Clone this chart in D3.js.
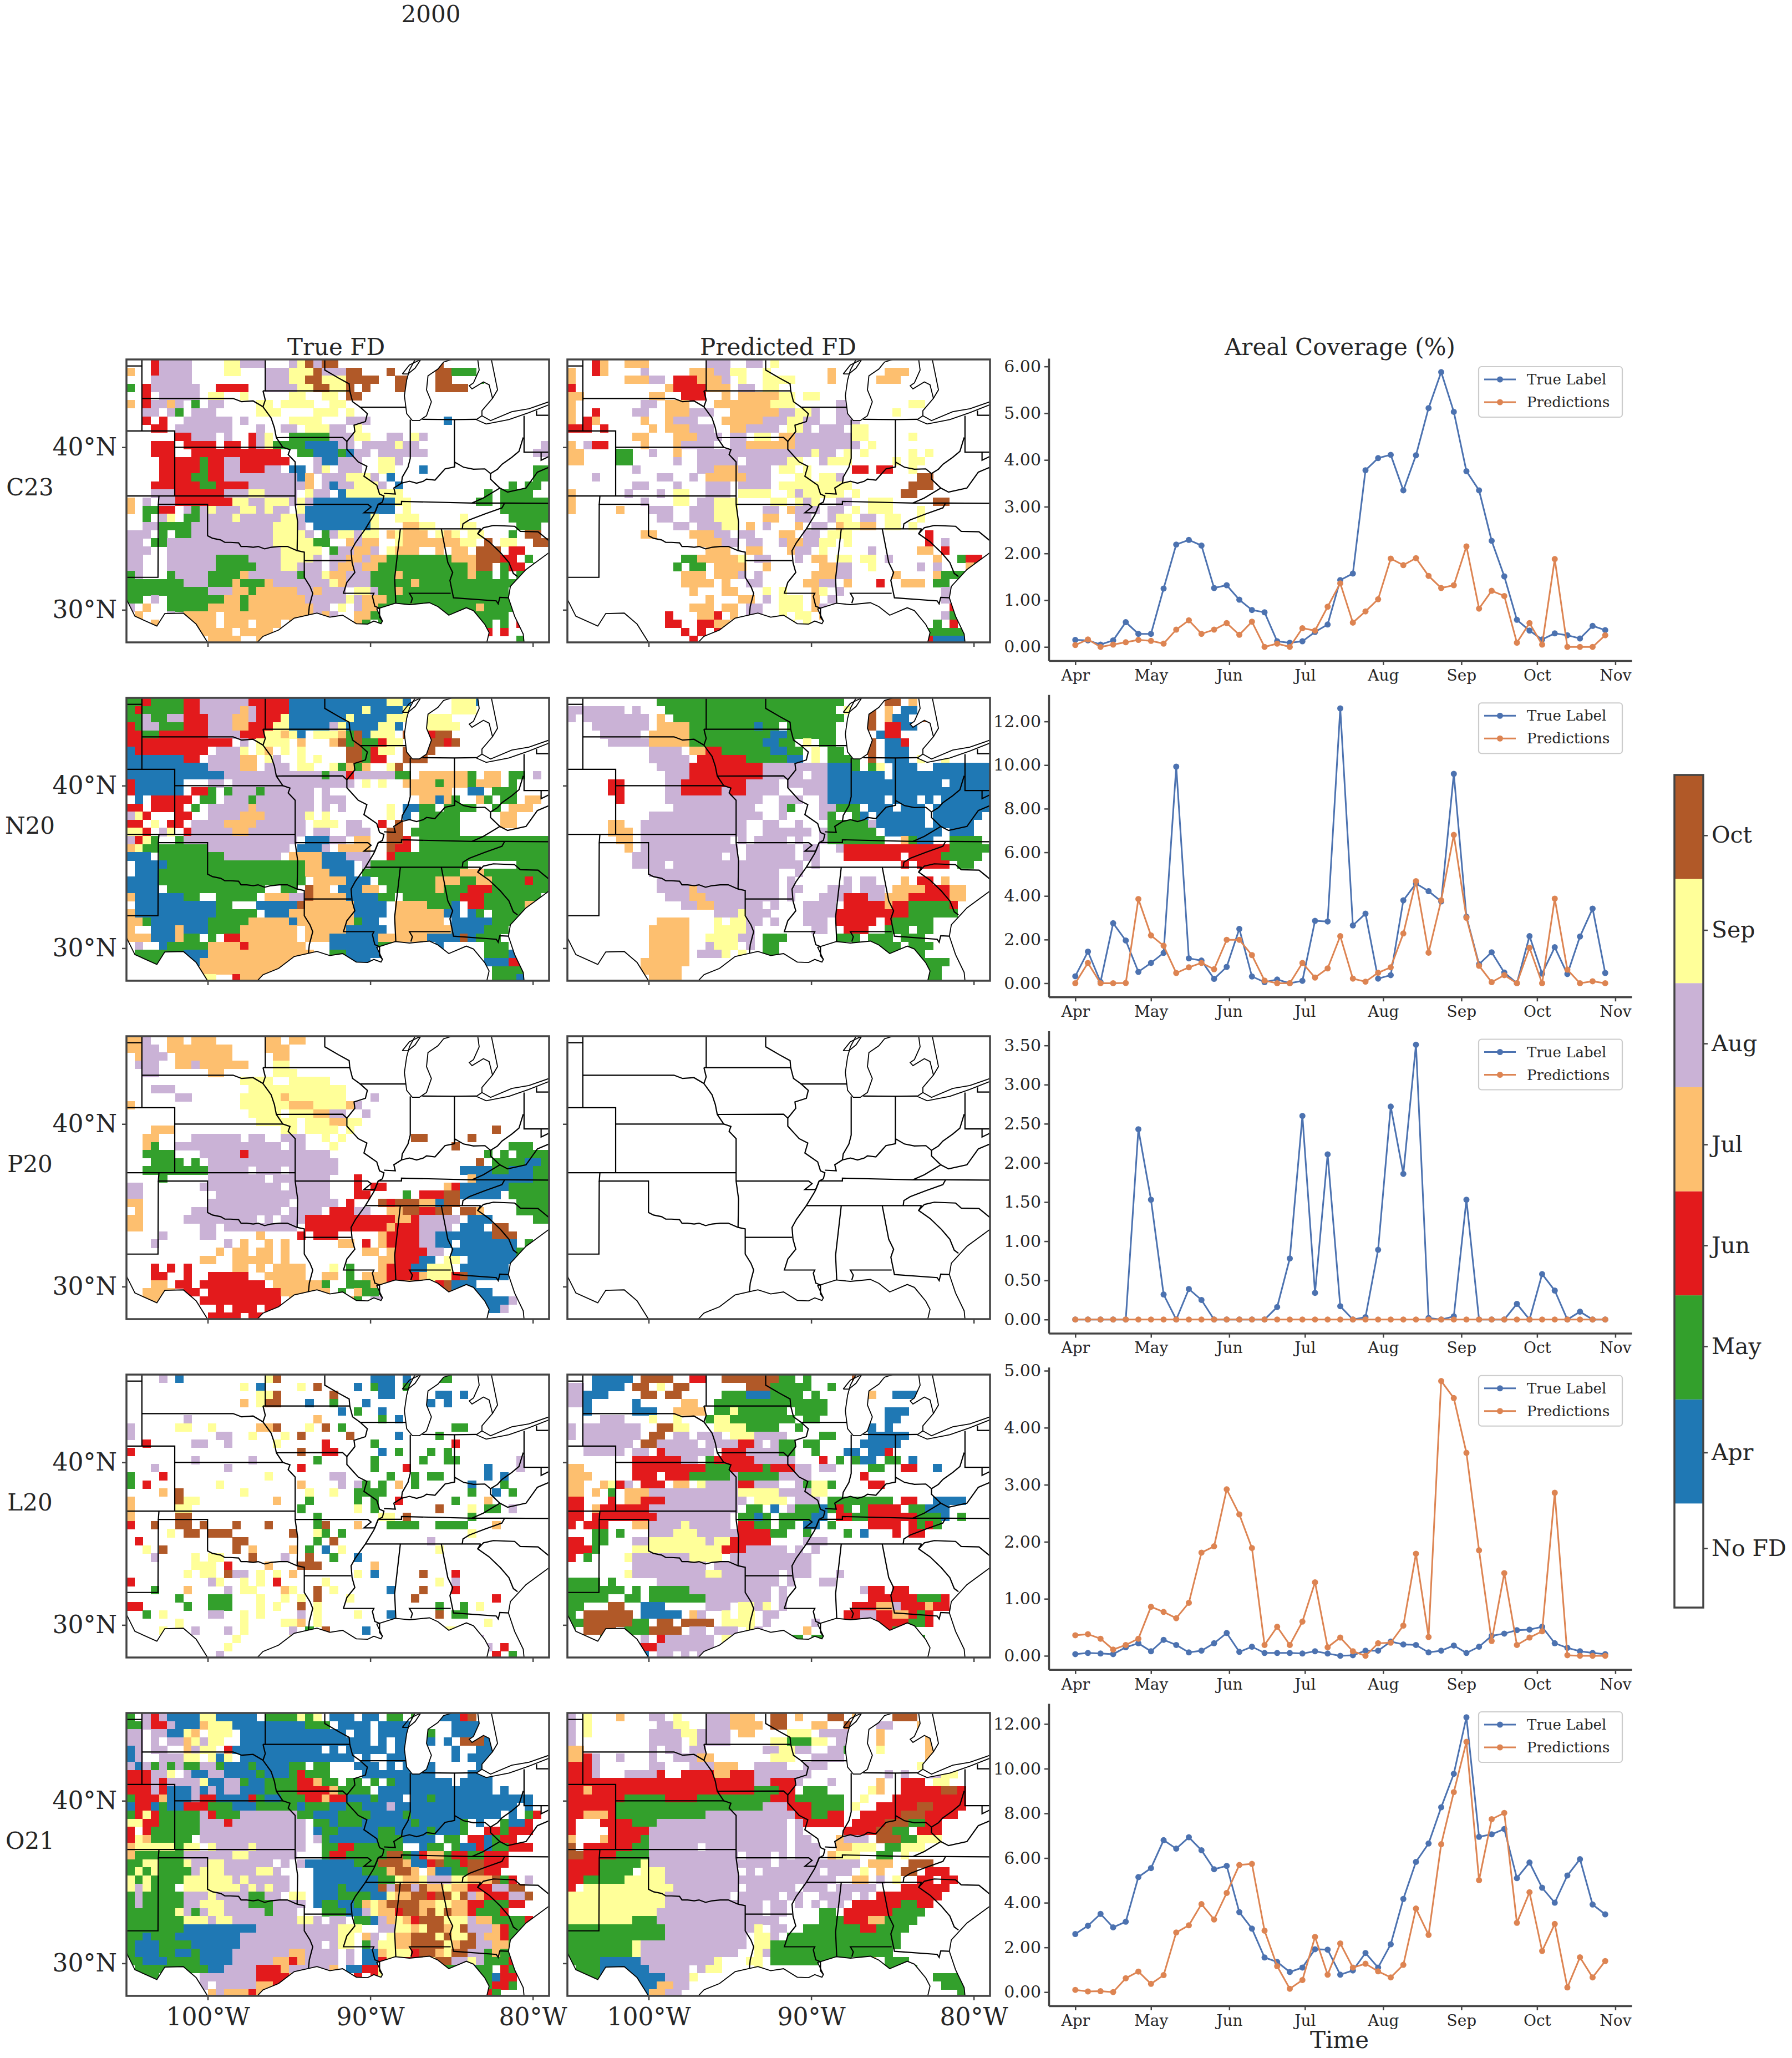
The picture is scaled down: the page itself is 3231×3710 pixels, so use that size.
<!DOCTYPE html>
<html lang="en">
<head>
<meta charset="UTF-8">
<title>2000</title>
<style>
body { margin: 0; background: #fff; }
text { font-family: "DejaVu Serif", serif; fill: #262626; }
</style>
</head>
<body>
<svg id="fig" width="3231" height="3710"></svg>
<script src="https://d3js.org/d3.v7.min.js"></script>
<script>
var regions = ["C23", "N20", "P20", "L20", "O21"];
var colTitles = ["True FD", "Predicted FD"];
var monthNames = ["No FD", "Apr", "May", "Jun", "Jul", "Aug", "Sep", "Oct"];
var monthColors = ["#ffffff", "#1f78b4", "#33a02c", "#e31a1c", "#fdbf6f", "#cab2d6", "#ffff99", "#b15928"];
var cellCodes = ".amjlgso";
var barTicks = [0.57, 1.49, 2.51, 3.48, 4.45, 5.42, 6.51, 7.42];
var monthTicks = [3, 4, 5, 6, 7, 8, 9, 10];
var yTicks = [
  [0, 1, 2, 3, 4, 5, 6],
  [0, 2, 4, 6, 8, 10, 12],
  [0, 0.5, 1, 1.5, 2, 2.5, 3, 3.5],
  [0, 1, 2, 3, 4, 5],
  [0, 2, 4, 6, 8, 10, 12]
];

// areal coverage, one value every 5 days from 1 Apr
var trueC23 = [.15,.14,.05,.14,.53,.28,.28,1.25,2.19,2.29,2.17,1.26,1.32,1.01,.79,.74,.12,.09,.12,.32,.48,1.43,1.57,3.78,4.04,4.11,3.35,4.10,5.11,5.88,5.03,3.76,3.35,2.27,1.51,.58,.35,.16,.29,.25,.18,.45,.36];
var predC23 = [.04,.16,0,.05,.1,.15,.13,.07,.37,.57,.28,.37,.51,.26,.54,0,.07,0,.4,.35,.86,1.36,.52,.76,1.02,1.89,1.75,1.9,1.52,1.26,1.32,2.15,.82,1.2,1.09,.09,.51,.05,1.88,0,0,0,.25];
var trueN20 = [.32,1.45,.06,2.75,1.96,.52,.93,1.39,9.93,1.14,1.04,.20,.75,2.49,.31,.05,.17,0,.11,2.86,2.83,12.6,2.65,3.19,.21,.37,3.80,4.57,4.22,3.75,9.60,3.05,.87,1.42,.49,0,2.16,.44,1.65,.42,2.14,3.42,.47];
var predN20 = [0,.93,0,0,.01,3.86,2.19,1.72,.47,.73,.93,.64,1.99,1.99,1.29,.12,0,0,.93,.26,.68,2.16,.21,.07,.48,.73,2.28,4.68,1.40,3.80,6.80,3.0,.80,.05,.37,0,1.63,0,3.88,.62,0,.09,0];
var trueP20 = [0,0,0,0,0,2.43,1.53,.32,0,.39,.25,0,0,0,0,0,.16,.78,2.60,.34,2.11,.17,0,.03,.89,2.72,1.86,3.51,.02,0,.04,1.53,0,0,0,.20,0,.58,.37,0,.10,0,0];
var predP20 = [0,0,0,0,0,0,0,0,0,0,0,0,0,0,0,0,0,0,0,0,0,0,0,0,0,0,0,0,0,0,0,0,0,0,0,0,0,0,0,0,0,0,0];
var trueL20 = [.03,.05,.04,.03,.15,.22,.08,.28,.19,.06,.09,.22,.40,.07,.16,.05,.05,.05,.04,.08,.04,0,.01,.09,.09,.25,.20,.19,.06,.09,.18,.05,.16,.35,.39,.45,.46,.51,.22,.14,.08,.05,.03];
var predL20 = [.36,.38,.30,.11,.19,.30,.86,.77,.66,.93,1.81,1.92,2.92,2.48,1.89,.19,.51,.19,.60,1.29,.15,.32,.08,0,.22,.23,.53,1.79,.33,4.82,4.52,3.56,1.85,.26,1.45,.19,.32,.43,2.86,.01,0,0,0];
var trueO21 = [2.6,2.97,3.5,2.9,3.15,5.15,5.55,6.8,6.42,6.93,6.35,5.5,5.65,3.58,2.84,1.55,1.35,.9,1.1,1.92,1.9,.78,.97,1.75,1.1,2.14,4.17,5.83,6.65,8.27,9.77,12.3,6.95,7.06,7.3,5.1,5.8,4.67,4,5.22,5.95,3.92,3.48];
var predO21 = [.1,.03,.04,0,.62,.92,.37,.76,2.67,2.99,3.94,3.25,4.44,5.69,5.74,2.75,1.16,.15,.54,2.47,.78,2.18,1.1,1.27,.93,.66,1.22,3.74,2.56,6.62,8.95,11.2,5.01,7.74,8.02,3.1,4.47,1.84,3.05,.21,1.56,.66,1.39];
var trueSeries = [trueC23, trueN20, trueP20, trueL20, trueO21];
var predSeries = [predC23, predN20, predP20, predL20, predO21];

// flash drought onset month on a half degree grid, first row just under 45.4N, first column at 105W
var gridC23True = [
"...jgggg....ssggg...gsogoo............o.....",
"l..jgggg....ss...gggsssogggoo...o.....oommm",
"...ggggg.........gggssoosssoooo..oo...oo...m",
"m.jgggggg..jjjj..ggggssoosso.o...oo...oooo",
"..j.ggggg.ss..s.....ss..ss.oo",
"l.jgglg.m.gg....ss.ssss..ss",
"..gg.gm.ggg.....sss....sss.s",
"..j.j..gggggg.g.....ssss...ggg.........a",
"...jj.ggggggg...g..gg.sssgg.s",
"......jjggg.g..jgs..mmmmmgggss..gg.sg",
"...jjj.jjjj.jj.jgsmmmmaaaagg.ggggsgg...............g",
"...jjj..jjjjjjjjjjj..mmaaamagg.gggggg.............gg",
"....jjjjjmjjggjjjjjj...gaaggg..ssg..................m",
"....jjjjjmjjggjjjgg.aa.gs.ggg..ss...a.............mm",
"....jjjjmmjjgggggggggal.gggsssg.a.................mm",
"...jjjjjjmmjjjjgggggggl.gaggsssg.a.............m.mm.",
"...gggjjjjjjgggssgggg.sgg.asssssss..........m.mmmm",
"l.g.ggjjjjjjjssggsssgsgaaaaaaaaaass........mm.mmmmmm",
"l.mmjj.gmgsgggssgsgg.saaaaaaaaaaa.s...........mmmmmm.oo",
"..m.gs.mmggggsgggggssgaaaaaaaas..sss.....s.....mmmmm.oo",
"..ggmmmmggggggggggsssg.aaaaaaas...llss...ss.....mmm.oo",
"ggg.m.mmggggggggggssssg.mgssgss.lslll.sls.ss...m.oo.o",
"gg.mmgggggggggggggsssssmm..lgll..slllllllss.o.ss..oo",
"ggg..ggggggggggggggsssss.mggllg.slll..l.ll.ooo.jj..",
"gg...ggggggmmmmggggssssg.ggllgllmmmmmmmmlllooojj.m.",
"gg...ggggggmmmmmgggssggg.gllgllmmmmmmmmmmmloo.mjj.m",
"mg...mggggmmmmlggggggmggsllgggmmmlmmmmmmmmlmm.m.mm.",
"mmmmmmmgggmmmlmmmlgggggggslgggmmmmmlmmmmmmmmmmmmmmm",
"mmmmmmmmmmgggllmlllllgglggg.ssgmmlmmmmmmmmmmmmm.m.m.",
"mm.g.mmmmmmmllmlllllllgggggsglllmmmmmmmmmmmmmmmm.j.o",
"g.l..mmmmmllllmllllllllgg.s.gllmmmmlmmmmmmmlmmmmjjjo",
".l...g.llll.lllllllllllglg..llmmmmlmmmmmmmmmmmm.m.jm",
"gm.l.ggllll.lll.lll.lllll.s.lm.mmmmmm.l.mmmmm.m.jm",
".lllllg.lllll.llll..lll.llll.ll.mmm.mmmmmm..j.j..j.m",
".llll.lll.llll..ll.llllll.lll.mm.m..mmm.l.......mm."
];
var gridC23Pred = [
"...jl..lll.......ggg..gg.s..........o.......",
"l..jl....g.....lllggss..s.......l......lll",
"l......lllgg.jjjlllg.s..ssss....l.....lll",
"j...........ljjjjlll.gg.ss.................",
"ll........ll..jjj..l.lllllss.ss...........",
"l........gg.lll...lllllllsss.....ggg......ss.ll",
"l..j....gg..lllggg..llllllggssg..gg.....s",
"l.jl.....l..lggg...lllllgggssgg..ggg...",
"jjj.j.....l.lllggg..llgggg.ssg.ggg.ss.",
"........ll...lllggg.gg.ss.llgggggggss.....s",
"l.gjj....l...lgggg..ggllllllgggggggg.s.....",
"ll....mm..g..l..ggggggggggggggsgg.s.s.....s.s",
"ll....mm.....g..ggggg.gggggss..gsss.....s.ss",
"........g.......gglllgggg.ss.s.....jj.jj..s.",
"...g.......gg..g.lllllggg...ss.ssg.........oo",
"........gg...g...ggg.gggg.sssssssss.......ooo",
"l......g...g.ss..ggg.ssss..sgsssss.s.....oo.",
"l........g...ss.ggsss....ss.sgs..gg..sss.....oo",
"l.....l...ggg..gggsss...gg.lggg.gg.s.sss...s",
"...........gg..gggsss...ll..gg..gss.gg.ss..s",
".............gg.gggss.l.g...l.gg.lssll.ss.s",
".........ll....lllgg.gg...ll.gg.sss.........j",
"................lllgg.gg..gllggss.s.........j.g",
".................lll..ll...lgg.s.....g.....ll.j",
"..............mmllllls.gg...g.ll.ss.ss.g.....l..mjj",
".............m.mm.llll..l......llgg..s.....g.g...lmmjj.",
"..............lll.lllg.g......lllgg.....l....lmmmmll",
"..............llll.l..gg.....llgg.l...j..lll.mm.mm.",
"...............l...ll...s.s...ls.g............ggjlmm",
".................l...ll.g.sss.l.g.............ggj.mmm",
"...............lll.ll.gg..sss.lg...............jmmm",
"............j...llj.l.gg..s.ss.l..............gmm.mm",
"............jj..jjll.gs.l.ss.s..........m....m.j.mm.",
"..............j.j.j.l.gs..ss..mo......o.o...mmmmmj",
"...............j..l.s..sss.ss.m.........mmmjjaaaa."
];
var gridN20True = [
"mmjmmmmjjggggggjjjjjaaaaaaaaaaaassa.....sssa",
"mjmmmmmjjggggglgjjjjaaaaaaaaasaaaassl...sss",
"mmgmmggjjjgggllgjjjsaaaaaaasaaaasss..sss",
"jmggmmmjjjggglljjjssaaaaagsaaaassa.oossss",
"jjmmjjjjjjggggjjjsslsa.ssslmoasss.ooojoo",
"jjjjjjjjjjjjj.g.ssss.l...lomommjss.oooojo",
"ajjjjjjjjj.gggs.sl.s.s.....oomjss.oooo",
"aaaaaaajj.ggggll.sg..s.s...oomjj..ooo",
"aaaaaaaaaaggggll.ggg.ss..smlml..so",
"aaaaaaaaaaaaggggggggggggmggjgggggmm.llllllm.ll.mm.g",
"jaaaaaa...gg.ggggggggggggggg.s.s..llllmlllmlll.m",
"jaaaaaa.jjm.mgggmgggggg.g..........lllll..aa.mmm",
".a.jjjjj.mm.gggmggggggg.ggg.........llalm..lm.mm.ll",
"jj.jjjj.m.ggggglggggggg.g.g.....s.aamm.mmmm..m.lll",
"gsj...jj..gggglllgggggs.s.......s.a.mmmmm.....ll",
"jj.s.jj.ggggllllgggggg.sss.gg..j.o..mmmmm.....ll",
"ssj.gs.jgggggllggggggg.gg..ggg..oo.mmmmmm...",
"gjsm..mgggggggggggggg.aaagg.ll..ooj.mmmmmmmmmmmmmmmm",
"lsmmmmmmmmgggggggggg.aaag.llll..ojj.mmmmmmmmmmmmmmmm",
"aaa.mmmmmmmmggggggg.llllaaaggg..jmmmmmmmmmmmmmmmmmmm",
".aaaammmmmmmmmmmmmmmmmllaaaa.gmmmmmmmmmmmm......mmmm",
".aaammmmmmmmmmmmmmmmmmlllaaa.mmmmmmmmmmmmlllmmmmmmmm",
"aaaammmmmmmmmmmmmmmmmm.llllaaa.mmmmmmmlllmmllmmmmjmm",
"aaaa.mmmmmmmmmmmm..mm.oll.aaall.mmmmmmlmmmjjjmmmmmmm",
"laaaaaamm..mmmmm.lllggollllaaaamm.mmmmmmmjjjmmmmmmm",
".aaaaaaaaaamm...aaaaaollllllaaaa.llllmmma.jjmmmmmll",
"laaaaaaaaaammmmm.aaallllllllaaaa.llllllaa.am.mmmm.l",
"llmaaaaaaammmmmlllllalllllllmaa..llllll.aaaaammm.",
"l..aaalaaammmmlllllll.lllllaaaaa.lllllllaaaammm",
"lllaaalmm.m.jjlllllll.lllaaaaaallllllaaaaoammm",
".g..ammmmmlllljlllllll...aaaaaamm...a.a.....mmm.",
".mmmmmmaaalllllllllllll..mmaaaaa............mmma",
"..mmm...allllllllllllls...saaa..............aaajj",
".........lllllllllll.........................mmmm",
".........ss..jllll...........................mmma"
];
var gridN20Pred = [
"...........mmmmmmmmmmmmmmmmmmmmmmm..ss.oo.l.oo",
"ggggggg.g...mmmmmmmmmmmmmmmmmmmmm.s..o.l.aa.oo",
"g.gggggggg.l.mmmmmmmmmmmmmmmmmmmmm...o.laa.oo",
"...ggggggg.llllmmmmmmmmamm.mmmmmm....o.jjaa",
"....ggggg.lllllmmmmmmmmmmaammmmmm..oo.ajj",
".....ggggglllllmmmmmmmmmaamm.s.mm...oo.aaj",
"..........gggg.lljjmmmmmmaamm.s.mm..oo.aaa",
"..........ggggg.jjjjjjmmmmmaa.s.mmmm.o.aaa.s..s",
"...........ggggjjjjjjjjjggggggggaaam.ms.aaa..aaaaaaa",
"............gggjjjjjjjjjggggg.ggaaaaaaa.aaaaaaaaaaaa",
".....jj.....ggjjjjjjjjgggg.gggggaaaaaaaaaaaaaa.aaaaa",
".....jj.....ggjjjjjgjjgggg...gggaaaaaaaaaaaaaaaaaaaa",
"......j.....gggggggggggg..ggg..gaaaaaaa.aaa.a.aaaaaa",
".............gggggggggg...gm...ggmmm.aaa.aaa.aaaaaaa",
"..........gggggggggggggg..g....gm..ma.aaaaaa.aaaaaa",
".....ll..ggggggggggggg..gg..g...mmmmmgaaaaaa.aaaaa.",
".....lll.ggggggggggggg..gggggg.gmmmmmm.aaaaaaa.aaa",
"......ll.ggggggggggg.g.gggg.g..gmmmmmmm..lmaa..mmmm",
".......l.gggggggggggg.gggggg.gg..gjjjjjjjjjjjjjmmmmm",
"........ggggggggggg.g.gggggg.gg...jjjjjjj.jjjjmmmmm",
"........gggg.gggggggggggggggg.g..........j.jjjj.mm",
"..........gggggggggggggggg..g....................",
"...........ggggggggggggggg.g......g.gg...l.jj.l.",
"...........gggglgggggggggg.gg...ggg.ggg.lllljjjll",
"............gggllggggggggg.g...gggjjjggllljjjjjll",
"..............ggllgggggg.g...gggg.jjjjjljjmmmmmj.",
"..................gggsggg....ggggjjjjjjjjjmmmmmm",
"...........llll...s.ssgg.g...ggg.jjjjj.jmmmmm.",
"..........lllll...ssssg.......gg..jjj..mmm.mm",
"..........lllll..ssssgg.mmm......mmm.mmm.mmm",
"..........lllll..gsss.g.mm.........mmmmmm.mmm",
"..........lllll.gggs.s..mm...........mmmmmmm",
".........llllll..........................mmmmmm",
".........lllll...........................mmmmm",
"..........llll...........................mmamm"
];
var gridP20True = [
"llg..ll.lll......ll.ll",
"llgg.llllllll....lll",
".lggg.lllllll.....ll",
".ggg..llgllllll...ss",
"..gg......ll......sss",
"..............ssss..sssss",
"...ggg.........ssssssssssss",
"......gg......ssssslsssssss...g",
"l.............sssssslllsssslg..",
"...............ssss.sssllgg..g",
"................sssss.sssllss",
"...lll.............ss.ssss.s.................o",
"..ll....gggggg.gg..ggg..s.s........oo.....o",
"..lm..ggggggggggggg.gg...s..............o......mmm",
"..mmmm...gggggjgggggggggg...................m.m.mmmmm",
"...mmmm.m.gggggggggggggggg.................o.mmmmaamm",
"..mmmmmmmmggggg.ggg.gggggg...............aaaammaaammm",
"....m.....ggggggg.ggggggg...j.............laaaaaaammmmm",
"gg.......gggggggggg.ggggg...j.jj.......ljaaaaaammmmm",
"gg.........gggggggggggggg...jj....m.jjjooaaaaa.mmmmmm",
"ll........gggggggggg.ggggg.j...ojooollaoo.......mmmmm",
".l......ggggggggggg.gggg.jjjgg..lloojjoo.ool....mmmmm",
"ll.....ggggggggg.g.gggjjjjjjjjjjjlljggggg.aaa.....mmmm",
"ll.......gg.ggggggggg.jjjjjjjjjjljjjgggg.aaa.oo.....mmm",
"....g....gg.....l....j.jjj.....ljjjjggaaaaaaaooo....",
"...g........g.l..l.l......ll.j.ljjjjggaa.aaaaaaa.m",
"...........l.ll.ll.l.........ll.ljjjjgg.aaaaaaaam.",
".........ll..lllll.l...........lljjjaa.ss.aaaaaaam.",
"...j.j.j.....ll.l.llll...s.m...ljjjaasss.aaaaaa.",
"...jj..j..jjjjj..lllll..ll.m.llljjjjlsssjoaaaaa.",
"...ll.jj.jjjjjjjj.llllllm..mmmlljjllssjoaaa",
"..llll.jj.jjjjjjjjjllllll.m.lmm.mmg.jj.oaaaaa",
".llll..j.jjjjjjjjjj.l.l.mm.lm.ggm.mg.....aaaaaag",
"...........j.jjj.jjjjj....................aaaag",
"..........jjjj.jjj..j.................a.gag",
"..........jjjjj.jjj..j.................ag"
];
var gridP20Pred = [];
var gridL20True = [
"....g.a..........so...........aaa.a..mmm",
"..............s.a....s.o....a.maa.m..",
"................sso......o.....aa.....aa.a",
"..............l.soo...a..m...a.......a.a",
"..........................a.m..a...a...",
".......g...............l.......m.a.......",
"g.....ss..s.....llo...s.o.m........m....mm",
"g..........gg..s...s.o.....o.....a....m..",
"..j.....gg..g.....s.....j.....m.........j",
"j....................o..jj.....a.m...m.m..",
"........g......g.......m......m.....m..mm.......g",
"...g........g........j........m...j.........a...g",
"m...j............s.......gg.....m..m.mm.....a.a",
"m.j........s.........l....g.gm.m.l.m......a...m.",
"....l.o.......s.......s..s..mmmm..........m..a.m",
"l.....oss.........l...m.....m.m..j......m...l.",
"l.....ss.............m......s.m.......o...s.mm.g",
"l.....oo...............m.......ss.o.......m...",
"j..o..oo.o...o...o.....mo...l...mmmm..mmmm...l",
".....s.oo.ooo.......o..sm.m...............s",
".j...........oo........m.o...........g.....",
"..s.o........o.l....l.m.a.s...........s.",
"...g....s.ss...o...g..o..m..a....",
"........sss.j....l...ooo......l..............",
".......s.ss.ogg.s.s.l.......s.a.....o...j.",
"j.........gs..s.s.j.....s.............s.g",
"...m...l....g.ss...ls..o.s......a...o...j.",
"......m...mmm...s..s.s.o...s.......o.........j",
"jj.....m..mmm...s.s..o.s..............m..m.s",
"..m.s.....gg..s.s....g.s....s...a.....o.mm..",
"......s.......s....ssl.s....................s",
"....s.s.g...g.s.....g.m.o....a.....s.s.ss",
".j...........s......s......................g.",
"............s......g.......................gg.j",
"...........g.....g...........................j.m"
];
var gridL20Pred = [
"...aaaaa.oooo..jj..ooooooomm.m.....o",
"gg.aaaa.oo.s.oo.......ooommmmm..m..l.....",
"ggaaa....oo.oo.....mmmaaammmm.m.....ll..aaa",
"gga.....a.....ll..mmmmmmmmmmmmmm...a.....",
"..a.....aaa..llll.mmsmmmmmm.mmmm.......aaa",
"....ggg...s..s...mssmmmmmmmm.mm........aa",
"g.ggggggg..ooss...ssssmmmm..m.......aa.a",
"g.ggggggg.oo.gg.ggg.sssgggg....mm....aaaaa",
"..gggggg.ooggggg.ggggjjg.gmm.mm.....aaaaa",
"..ggggg.gg.jgggggg.jjjggggmm..m...aa.aaj",
"........jjjjjjgg.mjjjjjggggg...j.m.maa.mm.a",
"ll......jjjjjjjjjmmmjjjjmjjjgg.gg....mm..jj..a",
"lll.....jjj.jjjmmmmmgmmmmmgggg......j...",
"ll..lsjg.jjj.ll.sggggjjggg..gmssm....jj..",
"ll.l.m.lllgggggggggggsssssggggss.........",
"jj...j.lljjjgggggggggg.ssss.ggg.mmmmmmmm.jj..aaaa",
"jj.ljjjjjjggggggggggg.mm.a.gmmmamjm.mjjjj.mmaaa",
"jj.jjjjjjjjggggggggg.mmam.mmmmaa.jjmmjjjjjjmmma.m",
"j.jjj...llggggsggggg.jjmm.mm.aa.m....jjjj.jmjm",
"...mm.m...gggsssgggggjjjjmm..m....m.a...j.jj",
"jj.mm...ggsssssssgssjjjjj....ggg.....",
"jjjm....sssssssssssjjjggggg.g.g..........",
"j.m....sgggggggssss.gggggggggg...........",
"........ggggggggg.gggggggggggg...........",
".......sgggggggggssggggggg.ggg...g.....",
"mmmm.m.....ggggggggggggggg.g...gg.......",
"mmmmmmm.m.mmmmmgggggggggg.g.........gjj.jj",
"mmmmm..mm.mmmmmmmgggggggg.g..........jjjjjjmmmj",
"mm...oo..aaa.....ggg.ssgs.g........jjjllgjjjljj",
"m.oooooo.aaaaa.lg..s.ss.gg........jjggjjlljmj",
"mmoooooomm.oo.oooo.ssss.g.....g...jjggjjjjmmj.",
"m.oooo.mmmoooo.gg.ggg.sg.....l..mmmmjjjjmm..",
"m...mmmm.g.jgggggg.ssmmmmlmmm.mmm.mmmmjmm..m",
"...m....ajjggggggg.ss.smmmmmmlmm..mmmmmmm",
"......g.aa.gg.g.ggg.sj.mm.m...l.....mmm.m"
];
var gridO21True = [
"m.gjgaaaassaaaaa.mmmmsms.aaa.aa.mm.m..aaajo.lll",
"mmgjjgaaalsssaaaaaaaaammm.aaaa.aaaamm...aaaaaa",
"gg.ggaasl.sss.aaaaaaaaaaaaa.aa.aaaaamm..aaaooaam",
"gg.g.gglsgss..aaaaaaaaaaaaaaaa.a.aaaaa.a.oooaaam",
"ag.gg..lgss.jaaaaaaaaaaa.a.aaaaa.aaa....a..aaaaa",
"ag..gggss.sas.aaaaaaaaaaaaaa.a..aaaaa...a.aaa.aaa",
"gagmgmgmmggmaaamaaaamm.mm...aaa.a.aaaa.....aaaa",
"jjjggs.gaaggaaaamaaamjmmm....aaaaaaaaa....aaa",
"jjjgjggggsaaggmaammmmjjlmm.mm.m.maaaaaaa.aaaa",
"jjjgjaaagagaggaaammmmjjjjlmmmm.aaaaaaaaaaaaaa.a.....",
"mjjjlaaagjjaaaajmaammmjjljjaaamaaa.aamaaaaaaaaaaaa.",
"ajjamaajjjmmmaaammmmmammmaammaaagaaaaaaaaaaaaaaa.a.",
"mjsjmmmmmgjmmmgggggggmmaaammmmaaaamaaaaaaaaaaa.a.mj",
"ssjjmmmmmgggjggggggggg.mmammmaaaaaamaaaaam.a..maaj",
"j.jmmmmmmggggggggggggg.ammaaaaammaaaamaaam..jjmjjj",
"jslmmmmm.ggggggggggggg.gmaaaaaammmaaaa.mm.jjamjj",
"lsssssmss.sggggsgggggg..mmjjmmmmmm..amm.maajammjjj",
"lmmmmmmggggggssgggggg...mjjmmmmmoomajllmjjmmjjj",
"mmssmmmsggssgggggg.g.gaaaaaammmooolaajommjoojjj",
"msmsmmmmgsssggggssg....aaaaaammmlool.laammoojj",
"smsmmmmssssssgsggggg...aaaaaaaammsllsgggsslllomj.g",
"sgsmmm.sssssssgsgsgg...aaamaaaaogoogollslljjjggoo",
"mgmmmmmgggsggggmmgg.ss.aaammmmaaslloojoosogljjjggo",
"mgmmmmmggsssgggmmmgggg.ammaamlsloooollsslljjmmmjj",
"mmmmmmsgmgssgggggmggg...mmmaagslljoolosolljmmmj",
"mmmmmmmsssgssggggggggssg.gg.mmaglsljooosssgllmmmmj",
"mmmmmmmaaaaaaaaaggggggggggsss..ggsslsoolsogggljmmm",
"mmammmaaaaaaaaggggggggggggss.lg.sllooosossoglljmmj",
"maaammmmaaaaaagggggggggg.gss.mgssllooooslooggllmmmj",
"maaammaamaaaagggggggllgggg.g.aalsssjoolsooggmlmmj",
"mmaaammmmaaaaggggglljlgggg.g.aajssjjssooggsgmmmjmj",
".mmmmmmmmmaaggggjjjlgggggl.aajjsjjsmsmmmmaamm.jm",
"..mm..mm.gggggggjjjjlggl.l..j.jsjj.mmm.ammgmmajj",
"...m.....g.ggggglljjgg.jlll.j.jjj........mjmmjjm",
"..........lgllljlljjj...................mmmajm"
];
var gridO21Pred = [
"g.s...l...gg.s...ggglll..oo.l...oo.l....ooo...ll",
"g.s........ggss..gggllll.oo...ll..oo..gg...llss",
"g.s.......ggggssgggg.ll....sss.gggg...l.....lll",
"g.........gggg.sgggg.....ssmmmss.ggg..l.....lll",
"ll........g.gg.gg.......ggssgg..ggm...s.....lll.",
"lljg..g...g..gggll.......sss..gggg..........lll",
"jjjg......gg...ggglll..gggg..ggg...........s.ss",
"jjjg...ggggj..jjjjlljjjggggggg.........g.g..ggss",
"jjjjjjjjjjjjjjjjjjjjjjjggjjjg...g.....l..jjj.ss",
"jjljjjjjjjjjjjjjjjjjjjjmmmjj.mmm.....sl..jjjjjooj",
"jjjjjjjmmmmmjjjjmmmmmmmmmjjjmmmmmm..s...jjjjjjjjj",
"jjjjjjmmmmmmmmmmmmmmmmmmgggjjjmmmm.s..jjjjjoojjjj",
"jjllljmmmmmmmmmmmgggggggggggjjmmjj..jjjjjooojjjj.",
"j...jjjjmmmgggggggggggggggg.gjjjjj.jjjjooommjj..",
"j....jjjjjggggggggggggggggg.g.....jjjjoomm.jjj",
"l...ljjjjmggggggggggggggggg.gg...lggg.ooommsss",
"o.jjjjjjmmgggggg.gggggggggg.ggg..llsss.mmsss..",
"oojjjjmmmmggggggggggg.ggg.g.ggg.lsss..mm.s...",
"jjjjmmmmmsggggggggggggggg.gggggggggg.lll..ooo...",
"jjjjmmmm.sssggggggggg.g.ggggggg.ggg.s.l..oo.jjj",
"jjmmmmmsssssggggggggggggggggggggg..ll.g.s..jj.jj",
"j.sssssssssssgggggggg.gggggg.ggg.ggggg...jjjjjj",
"ssssssssssssgggggggg.ggggg.gg..gggg.g.jjjjjjjj..",
"ssssssssssssgggggggggggg.gg.g.g.gg.jjjjjjmmjj.",
"sssssssssssggggggggggggg.gg....mm.jjjjjjmmmm.",
"ssssssssmmmggggggggggggggg.....mmmjjjllmmmm.",
"mmmmmmmmmmmmgggggggggggs.gg..mmmmmmmjjmmmm.",
"mmmmmmmmmmmmgggggggggg.ssg.mmmmmmmmmmmmmm.",
"mmmmmmmmsggggggggggggg.ssmmmmmmmmmmmmmmmm",
"mmmmmmmmsgggggggggggg..sgmmmmmmmmmmmmmmm",
"mmmmaaaaagggggggggs...ss.mmmmmmmmmm.ll.mmm",
".mmmaaaaaaggggg.gss....s...........m...mmmm",
".mmmaaaaaaaagggs.............................mmmm",
"..mmaaaaaaallgg...............................mmmmm",
"...maaaaaallgg..................................mmmm"
];
var fdGrids = [
  [gridC23True, gridC23Pred],
  [gridN20True, gridN20Pred],
  [gridP20True, gridP20Pred],
  [gridL20True, gridL20Pred],
  [gridO21True, gridO21Pred]
];

// state lines as [lon, lat]
var stateLines = [
  [[-105,45],[-104.05,45]],
  [[-104.05,45.4],[-104.05,41]],
  [[-105,41],[-102.03,41],[-102.03,37]],
  [[-104.05,43],[-98.44,43],[-97.91,42.8],[-97.21,42.85],[-96.6,42.49]],
  [[-102.03,40],[-95.38,40]],
  [[-96.46,45.4],[-96.46,43.47]],
  [[-96.6,43.47],[-91.26,43.47]],
  [[-96.6,43.47],[-96.46,42.9],[-96.6,42.49],[-96.1,41.8],[-95.9,41.2],[-95.78,40.59],[-95.38,40],[-94.94,39.85],[-95.05,39.55],[-94.62,39.1],[-94.62,36.49],[-94.47,35.4],[-94.5,33.64]],
  [[-95.78,40.59],[-91.7,40.6],[-91.44,40.36]],
  [[-105,37],[-94.62,37]],
  [[-94.62,36.49],[-90.15,36.49],[-89.95,36.33],[-90.39,35.97],[-89.72,35.97],[-89.51,36.5]],
  [[-103,37],[-103.04,36.49],[-100.01,36.49],[-100.01,34.56],[-99.7,34.4],[-99.2,34.3],[-98.95,34.15],[-98.6,34.15],[-98.1,34.12],[-97.95,33.9],[-97.6,33.9],[-97.2,33.85],[-96.9,33.9],[-96.5,33.75],[-96.1,33.85],[-95.6,33.9],[-95.1,33.9],[-94.5,33.64],[-94.06,33.55],[-94.06,32],[-93.71,31.44],[-93.54,31.02],[-93.75,30.22],[-93.8,29.7]],
  [[-103.04,36.49],[-103.06,32],[-105,32]],
  [[-94.06,33.03],[-91.17,33.03]],
  [[-92.8,45.4],[-92.8,44.75],[-91.96,44.26],[-91.3,43.9],[-91.26,43.47],[-91.09,42.8],[-90.65,42.49],[-90.18,42.07],[-90.3,41.58],[-91,41.36],[-90.95,40.97],[-91.44,40.36],[-91.44,39.87],[-90.74,39.1],[-90.21,38.83],[-90.39,38.22],[-89.6,37.67],[-89.43,37.12],[-89.16,37],[-89.25,36.63],[-89.51,36.49],[-89.78,35.84],[-90.3,34.98],[-90.91,34.13],[-91.18,33.64],[-91.12,32.91],[-90.95,32.3],[-91.44,31.69],[-91.65,31.02],[-89.78,31.02],[-89.87,30.83],[-89.72,30.22],[-89.43,30.1],[-89.43,29.55],[-89.25,29.31]],
  [[-90.65,42.46],[-87.82,42.46]],
  [[-87.54,41.7],[-87.54,39.32],[-87.68,38.77],[-88.03,38.16],[-88.08,37.79],[-88.55,37.49],[-88.46,37.12],[-89.16,37.16]],
  [[-88.08,37.79],[-87.59,37.91],[-87.15,37.79],[-86.75,37.9],[-86.54,38.04],[-86.02,37.98],[-85.4,38.67],[-84.82,38.79],[-84.79,39.08],[-84.26,38.77],[-83.65,38.65],[-82.95,38.67],[-82.6,38.38],[-82.17,38.65],[-81.9,38.95],[-81.29,39.38],[-80.85,39.75],[-80.59,40.6]],
  [[-86.8,41.72],[-84.82,41.7],[-83.48,41.72]],
  [[-84.82,41.7],[-84.82,38.79]],
  [[-80.54,41.94],[-80.54,39.7],[-79,39.7]],
  [[-79.77,42.25],[-79.77,41.97],[-79,41.97]],
  [[-79.49,39.7],[-79.49,39.2],[-79,39.44]],
  [[-82.6,38.38],[-82.6,38.04],[-82.03,37.49],[-81.55,37.24],[-80.42,37.49],[-79.72,38.47],[-79,38.77]],
  [[-82.03,37.49],[-83.04,36.88],[-83.74,36.57]],
  [[-89.51,36.5],[-88.08,36.5],[-88.08,36.67],[-83.74,36.57],[-81.73,36.57],[-79,36.55]],
  [[-81.73,36.57],[-81.9,36.27],[-82.95,35.9],[-83.91,35.53],[-84.3,35.29],[-84.34,34.98]],
  [[-90.3,34.98],[-83.21,34.98]],
  [[-88.15,34.98],[-88.5,31.93],[-88.43,30.41]],
  [[-85.63,34.98],[-85.23,32.91],[-84.93,32.3],[-85.1,31.81],[-84.88,30.74],[-82.25,30.55],[-82.13,30.37],[-82.03,30.77],[-81.5,30.74]],
  [[-87.5,30.41],[-87.41,30.71],[-87.59,31.02],[-85.05,31.02]],
  [[-83.21,34.98],[-83.39,34.68],[-82.69,34.19],[-81.99,33.52],[-81.47,32.91],[-81.2,32.24],[-80.94,32.05]],
  [[-83.39,34.68],[-83.04,35.05],[-82.43,35.19],[-81.12,35.14],[-80.77,34.83],[-79.68,34.8],[-79,34.25]]
];

// water and the land outside the data, painted over the cells
var riverBend = [[-105,30.65],[-104.48,29.61],[-103.13,29],[-102.64,29.77],[-101.5,29.8],[-100.71,29.12],[-100.01,28]];
var gulfCoast = [[-96.95,28],[-96.6,28.37],[-95.64,28.76],[-94.68,29.49],[-93.28,29.8],[-92.49,29.55],[-91.7,29.67],[-90.86,29.15],[-90.16,29.12],[-89.78,29.31],[-89.34,29.15],[-89.25,29.31],[-89.6,30.05],[-88.46,30.41],[-87.59,30.32],[-86.36,30.44],[-85.84,30.2],[-85.17,29.67],[-84.09,30.13],[-83.65,29.95],[-82.95,29.1],[-82.69,28.6],[-82.83,28]];
var atlanticCoast = [[-80.54,28],[-80.59,28.51],[-81.12,29.61],[-81.5,30.74],[-81.38,31.44],[-80.42,32.48],[-79,33.52]];
var lakeMichigan = [[-87.24,45.4],[-87.59,44.75],[-87.76,44.14],[-87.9,43.17],[-87.76,42.07],[-87.41,41.64],[-86.98,41.64],[-86.54,41.94],[-86.24,42.8],[-86.54,43.53],[-86.45,44.39],[-85.84,44.81],[-85.49,45.24],[-84.96,45.4]];
var huronErieShore = [[-83.39,45.4],[-83.3,44.75],[-83.65,43.96],[-83.91,43.78],[-83.74,43.59],[-83.04,44.02],[-82.69,43.84],[-82.48,43.01],[-83.13,42.25],[-83.13,41.94],[-83.48,41.7],[-82.87,41.43],[-81.47,41.7],[-80.24,42.13],[-79,42.62]];
var ontarioShore = [[-82.55,45.4],[-82.17,43.53],[-82.48,43.01]];
var erieNorthShore = [[-83.13,41.94],[-82.6,41.64],[-81.29,42.19],[-80.24,42.37],[-79,42.8]];
var doorPeninsula = [[-88.03,44.51],[-87.59,45.06],[-86.89,45.4],[-87.24,44.87],[-87.68,44.51],[-88.03,44.51]];
var waterMasks = [
  riverBend.concat([[-105,28]]),
  gulfCoast,
  atlanticCoast.concat([[-79,28]]),
  lakeMichigan,
  huronErieShore.concat([[-79,45.4]])
];
var coastLines = [riverBend, gulfCoast, atlanticCoast, lakeMichigan, huronErieShore, ontarioShore, erieNorthShore, doorPeninsula];

var svg = d3.select("#fig");
var textColor = "#262626", spineColor = "#444444";
var mapLefts = [228, 1023], mapW = 762, mapH = 510, mapTop0 = 648, mapStep = 610;
var chartL = 1891, chartR = 2942, chartTop0 = 646, chartH = 545, chartStep = 606.25;
var lineColors = ["#4c72b0", "#dd8452"], lineNames = ["True Label", "Predictions"];

function styleAxis(g, size) {
  g.selectAll("text").style("font-size", size + "px").attr("fill", textColor);
  g.selectAll("line").attr("stroke", spineColor).attr("stroke-width", 2.5);
}

function drawMap(rowIdx, colIdx, grid) {
  var left = mapLefts[colIdx], top = mapTop0 + rowIdx * mapStep;
  var lon = d3.scaleLinear().domain([-105, -79]).range([left, left + mapW]);
  var lat = d3.scaleLinear().domain([45.4, 28]).range([top, top + mapH]);
  var id = "clip" + rowIdx + colIdx;
  svg.append("clipPath").attr("id", id).append("rect")
    .attr("x", left).attr("y", top).attr("width", mapW).attr("height", mapH);
  var g = svg.append("g").attr("clip-path", "url(#" + id + ")");

  var cells = [];
  grid.forEach(function (row, r) {
    row.split("").forEach(function (ch, c) {
      if (ch != "." && c < 52) cells.push({ r: r, c: c, k: cellCodes.indexOf(ch) });
    });
  });
  g.selectAll(".cell").data(cells).enter().append("rect")
    .attr("class", "cell")
    .attr("x", function (d) { return lon(-105 + d.c * 0.5); })
    .attr("y", function (d) { return lat(45.4 - d.r * 0.5); })
    .attr("width", lon(-104.5) - lon(-105) + 0.5)
    .attr("height", lat(44.9) - lat(45.4) + 0.5)
    .attr("fill", function (d) { return monthColors[d.k]; })
    .attr("shape-rendering", "crispEdges");

  var line = d3.line().x(function (d) { return lon(d[0]); }).y(function (d) { return lat(d[1]); });
  g.selectAll(".water").data(waterMasks).enter().append("path")
    .attr("class", "water").attr("d", function (d) { return line(d) + "Z"; })
    .attr("fill", "#fff");
  g.selectAll(".state").data(stateLines).enter().append("path")
    .attr("class", "state").attr("d", line)
    .attr("fill", "none").attr("stroke", "#000").attr("stroke-width", 2.2);
  g.selectAll(".coast").data(coastLines).enter().append("path")
    .attr("class", "coast").attr("d", line)
    .attr("fill", "none").attr("stroke", "#000").attr("stroke-width", 1.8);

  svg.append("rect").attr("x", left).attr("y", top).attr("width", mapW).attr("height", mapH)
    .attr("fill", "none").attr("stroke", spineColor).attr("stroke-width", 3.5);

  var xAxis = d3.axisBottom(lon).tickValues([-100, -90, -80]).tickSize(8).tickPadding(14)
    .tickFormat(function (d) { return rowIdx == 4 ? Math.abs(d) + "°W" : ""; });
  var gx = svg.append("g").attr("transform", "translate(0," + (top + mapH) + ")").call(xAxis);
  gx.select(".domain").remove();
  styleAxis(gx, 44);
  var yAxis = d3.axisLeft(lat).tickValues([30, 40]).tickSize(8).tickPadding(9)
    .tickFormat(function (d) { return colIdx == 0 ? d + "°N" : ""; });
  var gy = svg.append("g").attr("transform", "translate(" + left + ",0)").call(yAxis);
  gy.select(".domain").remove();
  styleAxis(gy, 44);
}

function drawChart(rowIdx) {
  var top = chartTop0 + rowIdx * chartStep, bottom = top + chartH;
  var series = [trueSeries[rowIdx], predSeries[rowIdx]];
  var start = new Date(2000, 3, 1);
  var dates = series[0].map(function (v, i) { return d3.timeDay.offset(start, i * 5); });
  var x = d3.scaleTime()
    .domain([new Date(2000, 2, 21, 12), new Date(2000, 10, 7, 12)])
    .range([chartL, chartR]);
  var maxVal = d3.max(series[0].concat(series[1]));
  var y = d3.scaleLinear().domain([-0.05 * maxVal, 1.05 * maxVal]).range([bottom, top]);

  var gx = svg.append("g").attr("transform", "translate(0," + bottom + ")")
    .call(d3.axisBottom(x)
      .tickValues(monthTicks.map(function (m) { return new Date(2000, m, 1); }))
      .tickFormat(d3.timeFormat("%b")).tickSize(8).tickSizeOuter(0).tickPadding(8));
  gx.select(".domain").attr("stroke", spineColor).attr("stroke-width", 3.5);
  styleAxis(gx, 28);
  var gy = svg.append("g").attr("transform", "translate(" + chartL + ",0)")
    .call(d3.axisLeft(y).tickValues(yTicks[rowIdx]).tickFormat(d3.format(".2f"))
      .tickSize(8).tickSizeOuter(0).tickPadding(6));
  gy.select(".domain").attr("stroke", spineColor).attr("stroke-width", 3.5);
  styleAxis(gy, 30);

  series.forEach(function (vals, s) {
    var line = d3.line()
      .x(function (d, i) { return x(dates[i]); })
      .y(function (d) { return y(d); });
    svg.append("path").datum(vals).attr("d", line)
      .attr("fill", "none").attr("stroke", lineColors[s]).attr("stroke-width", 3);
    svg.append("g").selectAll("circle").data(vals).enter().append("circle")
      .attr("cx", function (d, i) { return x(dates[i]); })
      .attr("cy", function (d) { return y(d); })
      .attr("r", 5.5).attr("fill", lineColors[s]);
  });

  // legend
  var lg = svg.append("g").attr("transform", "translate(2666," + (top + 15) + ")");
  lg.append("rect").attr("width", 259).attr("height", 91).attr("rx", 5)
    .attr("fill", "#fff").attr("fill-opacity", 0.8).attr("stroke", "#cccccc").attr("stroke-width", 2.2);
  lineNames.forEach(function (name, s) {
    var ly = 23 + s * 41;
    lg.append("line").attr("x1", 10).attr("x2", 67).attr("y1", ly).attr("y2", ly)
      .attr("stroke", lineColors[s]).attr("stroke-width", 3);
    lg.append("circle").attr("cx", 38.5).attr("cy", ly).attr("r", 5.5).attr("fill", lineColors[s]);
    lg.append("text").attr("x", 87).attr("y", ly + 9).style("font-size", "26px").text(name);
  });
}

regions.forEach(function (name, r) {
  drawMap(r, 0, fdGrids[r][0]);
  drawMap(r, 1, fdGrids[r][1]);
  drawChart(r);
  svg.append("text").attr("x", 54).attr("y", mapTop0 + r * mapStep + 245)
    .attr("text-anchor", "middle").style("font-size", "42px").text(name);
});

var titleData = [
  { t: colTitles[0], x: 606 },
  { t: colTitles[1], x: 1403 },
  { t: "Areal Coverage (%)", x: 2416 }
];
svg.selectAll(".coltitle").data(titleData).enter().append("text")
  .attr("class", "coltitle").attr("x", function (d) { return d.x; }).attr("y", 640)
  .attr("text-anchor", "middle").style("font-size", "42px").text(function (d) { return d.t; });
svg.append("text").attr("x", 777).attr("y", 40).attr("text-anchor", "middle")
  .style("font-size", "42px").text("2000");
svg.append("text").attr("x", 2415).attr("y", 3692).attr("text-anchor", "middle")
  .style("font-size", "42px").text("Time");

// colour bar
var barL = 3019, barW = 52, barY = d3.scaleLinear().domain([0, 8]).range([2898, 1397]);
svg.append("g").selectAll("rect").data(monthColors).enter().append("rect")
  .attr("x", barL).attr("width", barW)
  .attr("y", function (d, i) { return barY(i + 1); })
  .attr("height", barY(0) - barY(1))
  .attr("fill", function (d) { return d; });
svg.append("rect").attr("x", barL).attr("y", barY(8)).attr("width", barW).attr("height", barY(0) - barY(8))
  .attr("fill", "none").attr("stroke", spineColor).attr("stroke-width", 3.5);
var gBar = svg.append("g").attr("transform", "translate(" + (barL + barW) + ",0)")
  .call(d3.axisRight(barY).tickValues(barTicks).tickSize(8).tickPadding(7)
    .tickFormat(function (d, i) { return monthNames[i]; }));
gBar.select(".domain").remove();
styleAxis(gBar, 41);
</script>
</body>
</html>
